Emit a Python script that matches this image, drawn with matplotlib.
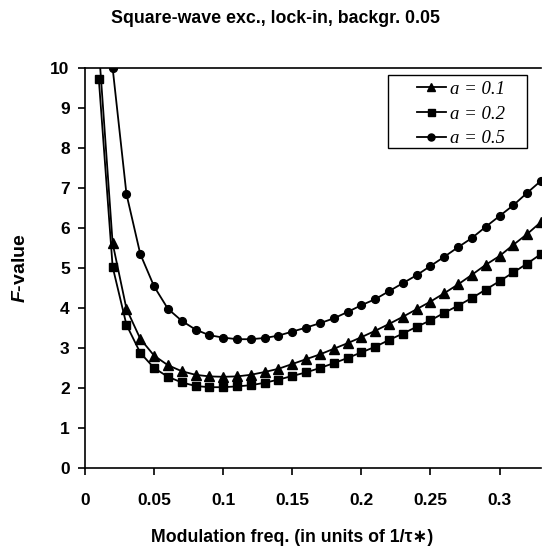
import numpy as np
import matplotlib
matplotlib.use('Agg')
from matplotlib import pyplot as plt
from matplotlib.patches import Rectangle

plt.rcParams['font.family'] = ['Liberation Sans', 'DejaVu Sans']
plt.rcParams['mathtext.fontset'] = 'custom'
plt.rcParams['mathtext.bfit'] = 'Liberation Sans:italic:bold'

# modulation frequency (units of 1/tau*)
freq = [0.01, 0.02, 0.03, 0.04, 0.05, 0.06, 0.07, 0.08, 0.09, 0.10, 0.11,
        0.12, 0.13, 0.14, 0.15, 0.16, 0.17, 0.18, 0.19, 0.20, 0.21, 0.22,
        0.23, 0.24, 0.25, 0.26, 0.27, 0.28, 0.29, 0.30, 0.31, 0.32, 0.33]

# F-value, a = 0.1 (triangles)
f_a01 = [10.5, 5.62, 3.98, 3.23, 2.81, 2.57, 2.42, 2.33, 2.29, 2.28, 2.29,
         2.33, 2.40, 2.48, 2.60, 2.72, 2.84, 2.98, 3.12, 3.27, 3.43, 3.60,
         3.78, 3.97, 4.16, 4.37, 4.59, 4.83, 5.08, 5.30, 5.58, 5.85, 6.15]

# F-value, a = 0.2 (squares)
f_a02 = [9.72, 5.03, 3.58, 2.88, 2.50, 2.28, 2.14, 2.05, 2.02, 2.02, 2.04,
         2.07, 2.13, 2.21, 2.30, 2.39, 2.50, 2.62, 2.75, 2.89, 3.03, 3.20,
         3.36, 3.53, 3.69, 3.88, 4.06, 4.25, 4.46, 4.67, 4.89, 5.11, 5.35]

# F-value, a = 0.5 (circles), first point off the chart
f_a05 = [None, 10.0, 6.85, 5.35, 4.54, 3.98, 3.68, 3.46, 3.32, 3.26, 3.22,
         3.22, 3.25, 3.31, 3.41, 3.51, 3.62, 3.74, 3.90, 4.07, 4.22, 4.42,
         4.62, 4.82, 5.05, 5.28, 5.52, 5.75, 6.03, 6.30, 6.57, 6.88, 7.18]

labels = ['a = 0.1', 'a = 0.2', 'a = 0.5']
markers = ['^', 's', 'o']

fig = plt.figure(figsize=(5.45, 5.47), dpi=100)
ax = fig.add_axes([85 / 545, 79 / 547, 456 / 545, 400 / 547])

for ys, m, lab in zip([f_a01, f_a02, f_a05], markers, labels):
    x = [f for f, v in zip(freq, ys) if v is not None]
    y = [v for v in ys if v is not None]
    ms = 6.6 if m == '^' else 5.6
    ax.plot(x, y, color='black', lw=1.3, marker=m, ms=ms, label=lab)

ax.set_xlim(0, 0.33)
ax.set_ylim(0, 10)
ax.set_xticks([0, 0.05, 0.1, 0.15, 0.2, 0.25, 0.3])
ax.set_xticklabels(['0', '0.05', '0.1', '0.15', '0.2', '0.25', '0.3'])
ax.set_yticks(range(11))

for lbl in ax.get_xticklabels() + ax.get_yticklabels():
    lbl.set_fontweight('bold')
    lbl.set_fontsize(12.5)

ax.tick_params(axis='x', direction='out', length=5, width=1.2, pad=13)
ax.tick_params(axis='y', direction='out', length=5, width=1.2, pad=6)
ax.spines['right'].set_visible(False)
for s in ['left', 'bottom', 'top']:
    ax.spines[s].set_linewidth(1.2)

ax.set_xlabel('Modulation freq. (in units of 1/τ∗)', fontsize=12.8,
              fontweight='bold')
ax.xaxis.set_label_coords(0.455, -0.152)
ax.set_ylabel(r'$\mathbfit{F}$-value', fontsize=14, fontweight='bold')
ax.yaxis.set_label_coords(-0.122, 0.5)
fig.suptitle('Square-wave exc., lock-in, backgr. 0.05', x=0.505, y=0.982,
             fontsize=12.8, fontweight='bold')

# legend frame drawn separately, Excel style
ax.add_patch(Rectangle((0.664, 0.80), 0.305, 0.1825, transform=ax.transAxes,
                       facecolor='white', edgecolor='black', lw=1.0,
                       zorder=4))
leg = ax.legend(loc='upper left', bbox_to_anchor=(0.728, 0.968),
                prop={'family': 'Liberation Serif', 'style': 'italic',
                      'size': 13.5},
                frameon=False, handlelength=1.55, handletextpad=0.2,
                borderpad=0, labelspacing=0.4, borderaxespad=0,
                markerscale=0.9)
leg.set_zorder(5)

fig.savefig('out.png', dpi=100)
